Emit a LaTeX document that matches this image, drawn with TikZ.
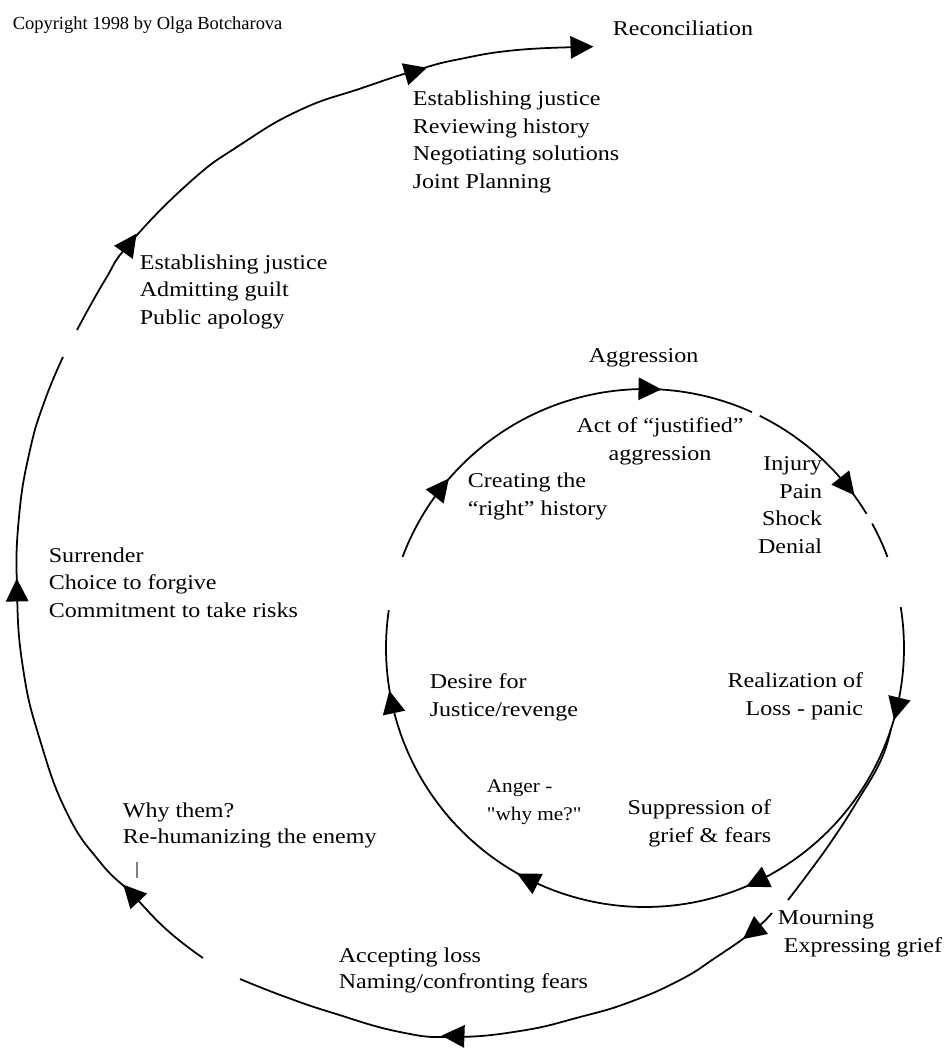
\documentclass[tikz,border=0pt]{standalone}
\usepackage{fontspec}
\setmainfont{Liberation Serif}[FakeStretch=1.14]
\newfontfamily\cpfont{Liberation Serif}
\newfontfamily\plainfont{Liberation Serif}[FakeStretch=1.1]
\usetikzlibrary{calc}
\begin{document}
\begin{tikzpicture}[x=0.02cm, y=-0.02cm, line width=1pt,
  arrowtri/.pic={\fill (6.5pt,0pt) -- (-6.5pt,6.5pt) -- (-6.5pt,-6.5pt) -- cycle;},
  lbl/.style={inner sep=0pt, font=\fontsize{12}{15.65}\selectfont},
  lbltight/.style={inner sep=0pt, font=\fontsize{12}{14.8}\selectfont},
  spiral/.style={line width=1pt, line join=round},
]
\useasboundingbox (0,0) rectangle (946,1049);
\def\cx{645}\def\cy{648}\def\rin{259}

% inner circle (clockwise, with gaps)
\draw[spiral] plot[domain=159.4:65.6, samples=70] ({\cx+\rin*cos(\x)},{\cy-\rin*sin(\x)});
\draw[spiral] plot[domain=63.7:31.2, samples=30] ({\cx+\rin*cos(\x)},{\cy-\rin*sin(\x)});
\draw[spiral] plot[domain=28.7:20.6, samples=10] ({\cx+\rin*cos(\x)},{\cy-\rin*sin(\x)});
\draw[spiral] plot[domain=9.1:-188.4, samples=150] ({\cx+\rin*cos(\x)},{\cy-\rin*sin(\x)});
\foreach \a in {141.7,88.9,38.6,-13.6,-64.5,-117,-168}
  \pic[rotate=\a-90] at ({\cx+\rin*cos(\a)},{\cy-\rin*sin(\a)}) {arrowtri};

% outer spiral
\draw[spiral] plot[smooth, tension=0.8] coordinates {(891,728) (881,760) (858,800) (833,839) (810,871) (788,900)};
\draw[spiral] plot[smooth, tension=0.8] coordinates {(772,913) (752,932) (715,958) (680,980) (630,1002) (580,1017) (520,1031) (453,1037) (400,1032) (333,1013) (283,996) (240,979)};
\draw[spiral] plot[smooth, tension=0.8] coordinates {(203,958) (167,930) (131,893) (100,862) (67,813) (40,740) (23,668) (17,590) (19,517) (30,450) (45,400) (63,357)};
\draw[spiral] plot[smooth, tension=0.8] coordinates {(77,330) (105,280) (130,243) (190,182) (240,145) (300,110) (362,88) (417,70) (460,59) (517,50) (585,47)};
\pic[rotate=218] at (752,932) {arrowtri};
\pic[rotate=178] at (453,1036) {arrowtri};
\pic[rotate=133] at (131,893) {arrowtri};
\pic[rotate=91] at (17,590) {arrowtri};
\pic[rotate=55] at (130,243) {arrowtri};
\pic[rotate=16.5] at (416,71) {arrowtri};
\pic[rotate=2] at (582,47) {arrowtri};
\draw[line width=0.6pt, gray] (137,862) -- (137,878);

% labels (multi-line nodes: base anchor is at the last line)
\node[lbl, anchor=base west, font=\cpfont\fontsize{10.5}{12}\selectfont] (cp) at (12,29) {Copyright 1998 by Olga Botcharova};
\node[lbl, anchor=base west] (recon) at (612,35) {Reconciliation};
\node[lbl, anchor=base west, align=left] (negot) at (412,188) {Establishing justice\\Reviewing history\\Negotiating solutions\\Joint Planning};
\node[lbl, anchor=base west, align=left] (apol) at (139,324) {Establishing justice\\Admitting guilt\\Public apology};
\node[lbl, anchor=base west, align=left] (surr) at (48,617) {Surrender\\Choice to forgive\\Commitment to take risks};
\node[lbltight, anchor=base west, align=left] (why) at (122,843) {Why them?\\Re-humanizing the enemy};
\node[lbltight, anchor=base west, align=left] (accept) at (338,988) {Accepting loss\\Naming/confronting fears};
\node[lbl, anchor=base west, align=left] (mourn) at (777,952) {Mourning\\\hspace*{3.4pt}Expressing grief};
\node[lbl, anchor=base west] (aggr) at (588,362) {Aggression};
\node[lbl, anchor=base, align=center] (act) at (660,460) {Act of “justified”\\aggression};
\node[lbl, anchor=base west, align=left] (create) at (467,515) {Creating the\\“right” history};
\node[lbl, anchor=base east, align=right] (injury) at (823,553) {Injury\\Pain\\Shock\\Denial};
\node[lbl, anchor=base west, align=left] (desire) at (429,716) {Desire for\\Justice/revenge};
\node[lbl, anchor=base east, align=right] (real) at (864,715) {Realization of\\Loss - panic};
\node[lbl, anchor=base west, align=left, font=\plainfont\fontsize{11}{15.4}\selectfont] (anger) at (486,820) {Anger -\\"why me?"};
\node[lbl, anchor=base east, align=right] (supp) at (772,842) {Suppression of\\grief \& fears};
\end{tikzpicture}
\end{document}
